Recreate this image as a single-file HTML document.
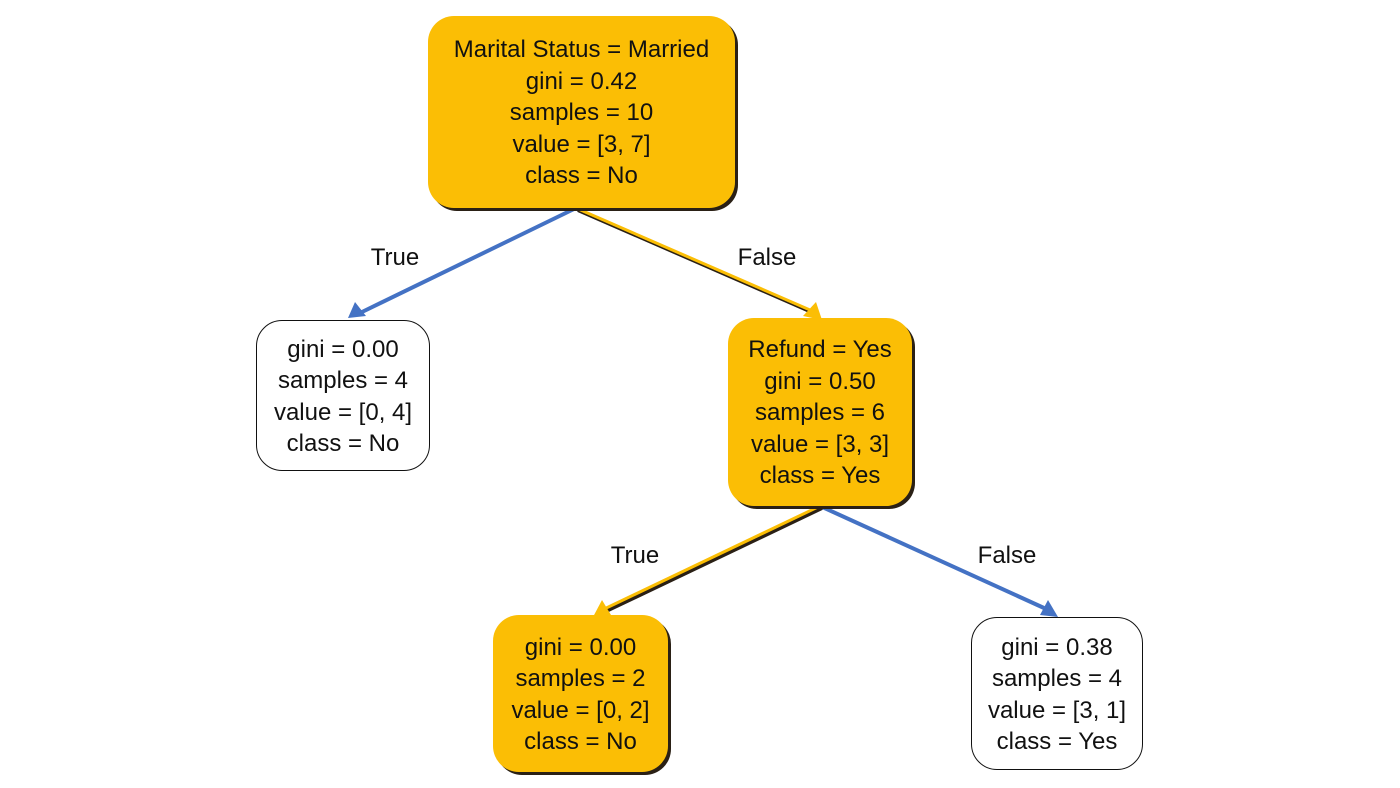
<!DOCTYPE html>
<html><head><style>
body{margin:0;background:#fff;width:1400px;height:788px;overflow:hidden;position:relative;font-family:"Liberation Sans",sans-serif;}
.n{position:absolute;box-sizing:border-box;border-radius:26px;text-align:center;font-size:24px;line-height:31.5px;color:#111;display:flex;flex-direction:column;justify-content:center;padding-top:2px;}
.y{background:#FBBE05;box-shadow:3px 3px 0 #2a2015;}
.w{background:#fff;border:1.5px solid #111;}
.l{position:absolute;font-size:24px;color:#111;transform:translate(-50%,-50%);}
svg{position:absolute;left:0;top:0;}
</style></head><body>
<svg width="1400" height="788">
<g stroke-width="4" fill="none">
<line x1="578" y1="210" x2="812" y2="312" stroke="#2a2015"/>
<line x1="576" y1="208" x2="810" y2="310" stroke="#FBBE05" stroke-width="3"/>
<line x1="822" y1="508" x2="602" y2="613" stroke="#2a2015"/>
<line x1="820" y1="506" x2="600" y2="611" stroke="#FBBE05" stroke-width="3"/>
<line x1="576" y1="208" x2="362" y2="312" stroke="#4472C4"/>
<line x1="820" y1="506" x2="1044" y2="608" stroke="#4472C4"/>
</g>
<path d="M348,318 L355,302 L366,316z" fill="#4472C4"/>
<path d="M1058,617 L1040,615 L1048,600z" fill="#4472C4"/>
<path d="M822,320 L803,316 L816,302z" fill="#FBBE05"/>
<path d="M593,617 L602,600 L611,615z" fill="#FBBE05"/>
</svg>
<div class="n y" style="left:428px;top:16px;width:307px;height:192px;">Marital Status = Married<br>gini = 0.42<br>samples = 10<br>value = [3, 7]<br>class = No</div>
<div class="n w" style="left:256px;top:320px;width:174px;height:151px;">gini = 0.00<br>samples = 4<br>value = [0, 4]<br>class = No</div>
<div class="n y" style="left:728px;top:318px;width:184px;height:188px;">Refund = Yes<br>gini = 0.50<br>samples = 6<br>value = [3, 3]<br>class = Yes</div>
<div class="n y" style="left:493px;top:615px;width:175px;height:157px;">gini = 0.00<br>samples = 2<br>value = [0, 2]<br>class = No</div>
<div class="n w" style="left:971px;top:617px;width:172px;height:153px;">gini = 0.38<br>samples = 4<br>value = [3, 1]<br>class = Yes</div>
<div class="l" style="left:395px;top:258px;">True</div>
<div class="l" style="left:767px;top:258px;">False</div>
<div class="l" style="left:635px;top:556px;">True</div>
<div class="l" style="left:1007px;top:556px;">False</div>
</body></html>
